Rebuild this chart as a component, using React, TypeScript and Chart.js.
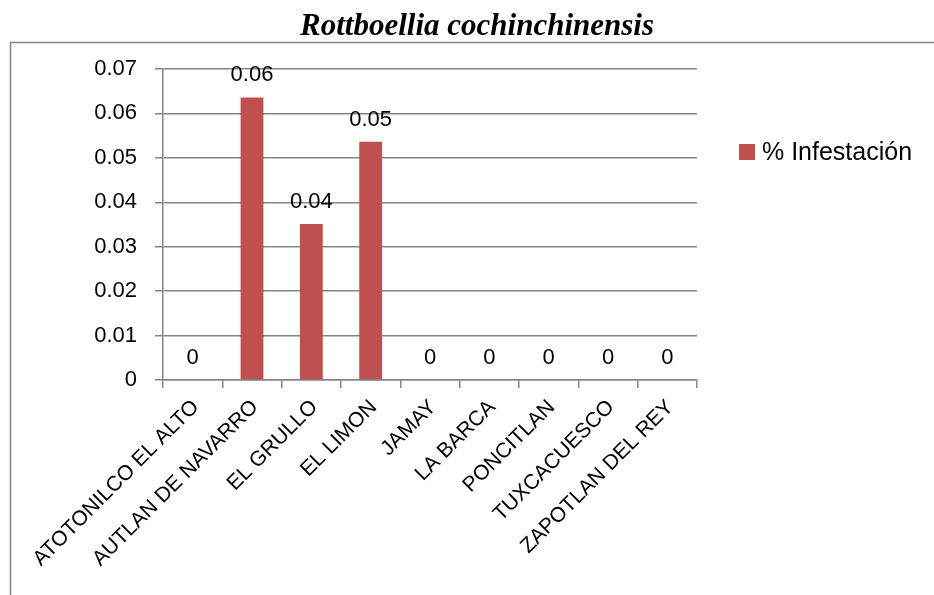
import React, { useEffect, useRef } from "react";
import { Chart, registerables } from "chart.js";

Chart.register(...registerables);

const categories = [
  "ATOTONILCO EL ALTO",
  "AUTLAN DE NAVARRO",
  "EL GRULLO",
  "EL LIMON",
  "JAMAY",
  "LA BARCA",
  "PONCITLAN",
  "TUXCACUESCO",
  "ZAPOTLAN DEL REY",
];
const infestacion = [0, 0.0636, 0.0351, 0.0536, 0, 0, 0, 0, 0];
const yTicks = [0, 0.01, 0.02, 0.03, 0.04, 0.05, 0.06, 0.07];
const seriesName = "% Infestación";
const chartTitle = "Rottboellia cochinchinensis";

const FONT = "'Liberation Sans', Arial, sans-serif";
const GRAY = "#868686";
const BAR = "#C0504D";

function fmt(v: number): string {
  if (Math.abs(v) < 1e-9) return "0";
  return (Math.round(v * 100) / 100).toFixed(2);
}

const decorPlugin = {
  id: "decor",
  beforeDraw(chart: any) {
    const ctx = chart.ctx;
    ctx.save();
    ctx.fillStyle = "#ffffff";
    ctx.fillRect(0, 0, chart.width, chart.height);
    ctx.strokeStyle = GRAY;
    ctx.lineWidth = 1.5;
    ctx.strokeRect(10.5, 42.5, 2000, 2000);
    ctx.restore();
  },
  afterDraw(chart: any) {
    const ctx = chart.ctx;
    ctx.save();
    // title
    ctx.fillStyle = "#000";
    ctx.font = "italic bold 31px 'Liberation Serif', 'Times New Roman', serif";
    ctx.textAlign = "center";
    ctx.textBaseline = "alphabetic";
    ctx.fillText(chartTitle, 477, 35);
    // legend
    ctx.fillStyle = BAR;
    ctx.fillRect(739, 144, 16, 16);
    ctx.fillStyle = "#000";
    ctx.font = `25px ${FONT}`;
    ctx.textAlign = "left";
    ctx.textBaseline = "middle";
    ctx.fillText(seriesName, 762, 153);
    // data labels
    const meta = chart.getDatasetMeta(0);
    ctx.font = `22px ${FONT}`;
    ctx.textAlign = "center";
    ctx.textBaseline = "alphabetic";
    meta.data.forEach((el: any, i: number) => {
      const v = chart.data.datasets[0].data[i] as number;
      ctx.fillText(fmt(v), el.x, el.y - 16);
    });
    ctx.restore();
  },
};

export default function App() {
  const ref = useRef<HTMLCanvasElement | null>(null);
  useEffect(() => {
    if (!ref.current) return;
    const chart = new Chart(ref.current, {
      type: "bar",
      data: {
        labels: categories,
        datasets: [
          {
            label: seriesName,
            data: infestacion,
            backgroundColor: BAR,
            borderWidth: 0,
            barPercentage: 0.385,
            categoryPercentage: 1,
          },
        ],
      },
      options: {
        responsive: false,
        animation: false,
        layout: { padding: { top: 69, right: 237, bottom: 0, left: 0 } },
        plugins: {
          legend: { display: false },
          title: { display: false },
          tooltip: { enabled: false },
        },
        scales: {
          x: {
            type: "category",
            offset: true,
            grid: {
              display: true,
              drawOnChartArea: false,
              drawTicks: true,
              tickLength: 8,
              color: GRAY,
              lineWidth: 1.5,
              offset: true,
            },
            border: { color: GRAY, width: 1.5 },
            ticks: {
              minRotation: 45,
              maxRotation: 45,
              autoSkip: false,
              color: "#000",
              padding: 7,
              labelOffset: 3,
              font: { size: 21, family: FONT },
            },
            afterFit: (s: any) => {
              s.height = 215;
            },
          },
          y: {
            min: 0,
            max: 0.07,
            afterBuildTicks: (s: any) => {
              s.ticks = yTicks.map((v) => ({ value: v }));
            },
            grid: {
              color: GRAY,
              lineWidth: 1.5,
              tickLength: 8,
            },
            border: { color: GRAY, width: 1.5 },
            ticks: {
              color: "#000",
              padding: 18,
              font: { size: 22, family: FONT },
              callback: (v: any) => fmt(Number(v)),
            },
            afterFit: (s: any) => {
              s.width = 163;
            },
          },
        },
      },
      plugins: [decorPlugin],
    });
    return () => chart.destroy();
  }, []);
  return (
    <div style={{ position: "absolute", left: 0, top: 0, width: 934, height: 595, background: "#fff" }}>
      <canvas ref={ref} width={934} height={595} style={{ display: "block" }} />
    </div>
  );
}
